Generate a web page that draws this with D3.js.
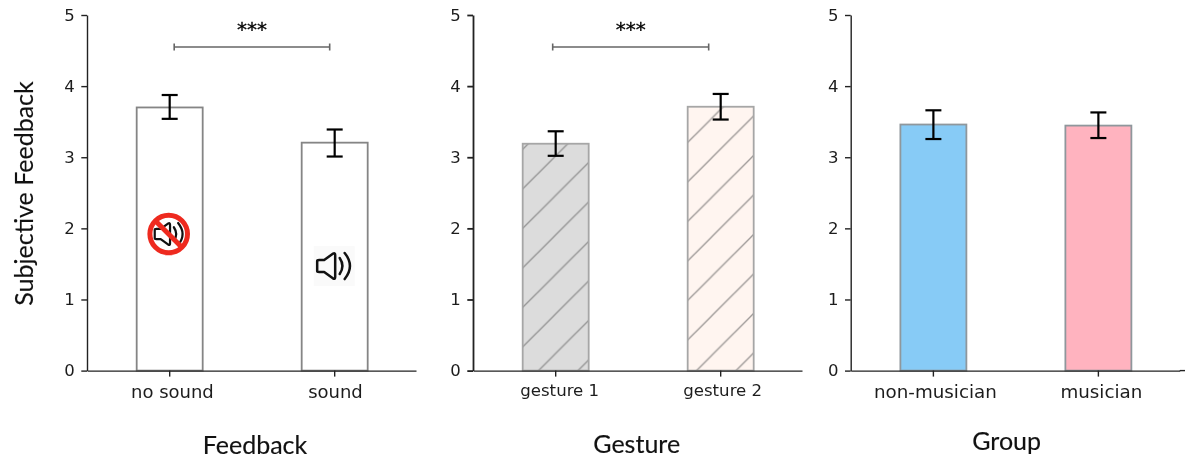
<!DOCTYPE html>
<html>
<head>
<meta charset="utf-8">
<script src="https://cdn.jsdelivr.net/npm/d3@7"></script>
<style>
html, body { margin: 0; padding: 0; background: #fff; }
svg { display: block; filter: blur(0.4px); }
.tick text { fill: #1c1c1c; }
.title { font-family: Lato, sans-serif; fill: #111; stroke: #111; stroke-width: 0.15px; }
</style>
</head>
<body>
<svg id="chart" width="1185" height="460"></svg>
<script>
// values
var feedbackCats = ["no sound", "sound"];
var feedbackMeans = [3.70, 3.205];
var feedbackLow = [3.54, 3.01];
var feedbackHigh = [3.875, 3.39];

var gestureCats = ["gesture 1", "gesture 2"];
var gestureMeans = [3.19, 3.71];
var gestureLow = [3.02, 3.53];
var gestureHigh = [3.365, 3.89];

var groupCats = ["non-musician", "musician"];
var groupMeans = [3.46, 3.445];
var groupLow = [3.256, 3.27];
var groupHigh = [3.66, 3.63];

var yTicks = [0, 1, 2, 3, 4, 5];
var bracketValue = 4.55;

var svg = d3.select("#chart");
var defs = svg.append("defs");

function hatch(id, fill, line) {
    var s = 39.5;
    var p = defs.append("pattern").attr("id", id)
        .attr("patternUnits", "userSpaceOnUse")
        .attr("width", s).attr("height", s)
        .attr("patternTransform", "translate(0.6,0)");
    p.append("rect").attr("width", s).attr("height", s).attr("fill", fill);
    [[0, s, s, 0], [-5, 5, 5, -5], [s - 5, s + 5, s + 5, s - 5]].forEach(function (l) {
        p.append("line").attr("x1", l[0]).attr("y1", l[1]).attr("x2", l[2]).attr("y2", l[3])
            .attr("stroke", line).attr("stroke-width", 1.3);
    });
}
hatch("hatchGrey", "#949494", "#949494");
hatch("hatchShell", "#fff5f0", "#9c9896");
defs.select("#hatchGrey rect").attr("fill", "#dcdcdc");

var y = d3.scaleLinear().domain([0, 5]).range([370.6, 15]);

function drawPanel(o) {
    var g = svg.append("g");
    var x = d3.scaleBand().domain(o.cats).range([o.left, o.right])
        .paddingInner(0.6).paddingOuter(0.297).align(0.507);
    var bw = x.bandwidth();

    g.selectAll("rect.bar").data(o.cats).join("rect").attr("class", "bar")
        .attr("x", function (d) { return x(d); })
        .attr("y", function (d, i) { return y(o.means[i]); })
        .attr("width", bw)
        .attr("height", function (d, i) { return y(0) - y(o.means[i]); })
        .attr("fill", function (d, i) { return o.fills[i]; })
        .attr("stroke", o.edge)
        .attr("stroke-width", 1.8);

    // error bars
    var err = g.selectAll("g.err").data(o.cats).join("g").attr("class", "err")
        .attr("transform", function (d) { return "translate(" + (x(d) + bw / 2) + ",0)"; })
        .attr("stroke", "#000").attr("stroke-width", 2.2);
    err.append("line").attr("y1", function (d, i) { return y(o.low[i]); })
        .attr("y2", function (d, i) { return y(o.high[i]); });
    err.append("line").attr("x1", -8).attr("x2", 8)
        .attr("y1", function (d, i) { return y(o.low[i]); })
        .attr("y2", function (d, i) { return y(o.low[i]); });
    err.append("line").attr("x1", -8).attr("x2", 8)
        .attr("y1", function (d, i) { return y(o.high[i]); })
        .attr("y2", function (d, i) { return y(o.high[i]); });

    var ax = g.append("g").attr("transform", "translate(" + o.left + ",0)")
        .call(d3.axisLeft(y).tickValues(yTicks).tickFormat(d3.format("d")).tickSize(5.7).tickSizeOuter(0).tickPadding(6.5));
    ax.selectAll("text").attr("font-family", "DejaVu Sans").attr("font-size", 16.5);
    ax.selectAll("line,path").attr("stroke", "#222").attr("stroke-width", o.spine);

    var bx = g.append("g").attr("transform", "translate(0," + y(0) + ")")
        .call(d3.axisBottom(x).tickSize(6).tickSizeOuter(0).tickPadding(o.pad));
    bx.selectAll("text").attr("font-family", "DejaVu Sans").attr("font-size", o.labelSize)
        .attr("dx", function (d, i) { return o.labelShift[i]; });
    bx.selectAll("line,path").attr("stroke", "#222").attr("stroke-width", 1.4);
    // the bottom spine runs on past the scale's range
    if (o.axisEnd) {
        bx.append("line").attr("x1", o.right).attr("x2", o.axisEnd)
            .attr("stroke", "#222").attr("stroke-width", 1.4);
    }

    if (o.bracket) {
        var x1 = x(o.cats[0]) + bw / 2 + o.bracket[0];
        var x2 = x(o.cats[1]) + bw / 2 + o.bracket[1];
        var by = y(bracketValue);
        var br = g.append("g").attr("stroke", "#666").attr("stroke-width", 1.6);
        br.append("line").attr("x1", x1).attr("x2", x2).attr("y1", by).attr("y2", by);
        br.append("line").attr("x1", x1).attr("x2", x1).attr("y1", by - 3.5).attr("y2", by + 3.5);
        br.append("line").attr("x1", x2).attr("x2", x2).attr("y1", by - 3.5).attr("y2", by + 3.5);
        g.append("text").attr("x", (x1 + x2) / 2).attr("y", 36)
            .attr("text-anchor", "middle").attr("font-family", "DejaVu Sans")
            .attr("font-size", 20).attr("fill", "#000").attr("stroke", "#000").attr("stroke-width", 0.3)
            .text("***");
    }

    g.append("text").attr("class", "title").attr("x", o.titleX).attr("y", o.titleY)
        .attr("text-anchor", "middle").attr("font-size", 25).text(o.title);
    return x;
}

var fx = drawPanel({
    cats: feedbackCats, means: feedbackMeans, low: feedbackLow, high: feedbackHigh,
    left: 87, right: 416, fills: ["#fff", "#fff"], edge: "#858585", spine: 1.4,
    labelSize: 18, labelShift: [2.7, 0.8], pad: 8.5, bracket: [4.5, -5],
    title: "Feedback", titleX: 255, titleY: 454
});
drawPanel({
    cats: gestureCats, means: gestureMeans, low: gestureLow, high: gestureHigh,
    left: 473, right: 802, fills: ["url(#hatchGrey)", "url(#hatchShell)"], edge: "#a6a6a6", spine: 1.8,
    labelSize: 16.6, labelShift: [4, 2], pad: 7.5, bracket: [-3, -12],
    title: "Gesture", titleX: 636.7, titleY: 453
});
drawPanel({
    cats: groupCats, means: groupMeans, low: groupLow, high: groupHigh,
    left: 850.7, right: 1179.7, axisEnd: 1185, fills: ["#87cbf6", "#ffb3bf"], edge: "#8f979c", spine: 1.4,
    labelSize: 18.3, labelShift: [2, 3], pad: 8.5,
    title: "Group", titleX: 1006.7, titleY: 450
});

svg.append("text").attr("class", "title")
    .attr("transform", "translate(32.5,193.5) rotate(-90)")
    .attr("text-anchor", "middle").attr("font-size", 25).text("Subjective Feedback");

// speaker glyph, drawn around 0,0
function speaker(sel, sw) {
    var s = sel.append("g").attr("fill", "none").attr("stroke", "#111")
        .attr("stroke-width", sw).attr("stroke-linecap", "round").attr("stroke-linejoin", "round");
    s.append("path").attr("d", "M-17,-5 Q-17,-6 -15,-6 L-10,-6 L-1,-12.5 Q1,-13.5 1,-11 L1,11 Q1,13.5 -1,12.5 L-10,6 L-15,6 Q-17,6 -17,5 Z");
    s.append("path").attr("d", "M5.5,-8 Q11,0 5.5,8");
    s.append("path").attr("d", "M10.5,-13 Q21,0 10.5,13");
}

// icons sit on the first panel's bars
var cx0 = fx(feedbackCats[0]) + fx.bandwidth() / 2;
var cx1 = fx(feedbackCats[1]) + fx.bandwidth() / 2;

var on = svg.append("g").attr("transform", "translate(" + (cx1 - 0.5) + "," + y(1.47) + ")");
on.append("rect").attr("x", -20.5).attr("y", -20).attr("width", 41).attr("height", 40).attr("fill", "#fafafa");
speaker(on, 2.5);

var off = svg.append("g").attr("transform", "translate(" + (cx0 - 1) + "," + y(1.92) + ")");
off.append("circle").attr("r", 21.5).attr("fill", "#fff");
speaker(off.append("g").attr("transform", "translate(0.5,0) scale(0.85)"), 2.6);
off.append("circle").attr("r", 18.8).attr("fill", "none").attr("stroke", "#ee2a1f").attr("stroke-width", 5);
off.append("line").attr("x1", -13.4).attr("y1", -13.4).attr("x2", 13.4).attr("y2", 13.4)
    .attr("stroke", "#ee2a1f").attr("stroke-width", 5);
</script>
</body>
</html>
